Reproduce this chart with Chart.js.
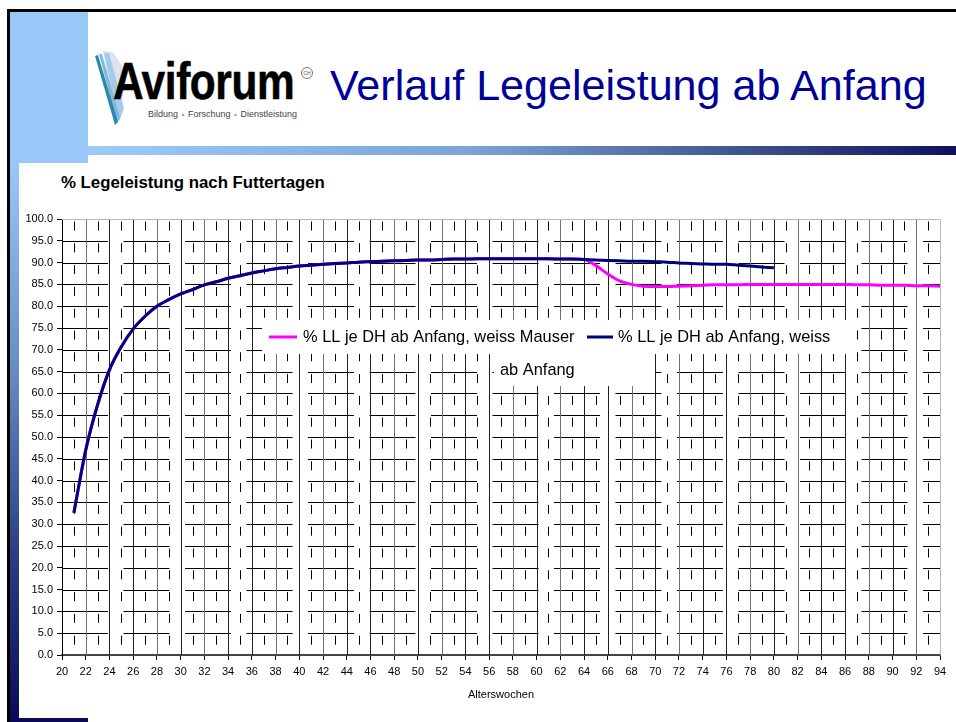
<!DOCTYPE html>
<html><head><meta charset="utf-8">
<script src="https://cdn.jsdelivr.net/npm/chart.js@4.4.0/dist/chart.umd.min.js"></script>
<style>
html,body{margin:0;padding:0;background:#fff;width:956px;height:722px;overflow:hidden;font-family:"Liberation Sans",Arial,sans-serif;}
.abs{position:absolute;}
</style></head><body>
<!-- slide frame -->
<div class="abs" style="left:7px;top:9px;width:949px;height:3px;background:#000"></div>
<div class="abs" style="left:7px;top:9px;width:3px;height:713px;background:#000"></div>
<div class="abs" style="left:10px;top:12px;width:78px;height:151px;background:#98c8f8"></div>
<div class="abs" style="left:10px;top:163px;width:9px;height:559px;background:linear-gradient(#98c8f8,#6a90c6 35%,#2a3f82 70%,#0a0a55)"></div>
<div class="abs" style="left:10px;top:718px;width:78px;height:4px;background:#0a0a55"></div>
<div class="abs" style="left:88px;top:146px;width:868px;height:9px;background:linear-gradient(90deg,#9ccbfa 0%,#7aa2d6 45%,#3e5590 75%,#10105e 100%)"></div>
<!-- logo -->
<svg class="abs" style="left:88px;top:45px" width="50" height="85" viewBox="88 45 50 85">
  <polygon points="103,51 113,52 126,72 121,110 117,124" fill="#dde3f0"/>
  <polygon points="104,53 109,53 124,108 119,122" fill="#a6cbe8"/>
  <polygon points="99,54 102,54 120,118 117,123" fill="#7dbbdc"/>
  <polygon points="95,56 98,55 118,122 115,125" fill="#2b88ad"/>
</svg>
<div class="abs" style="left:113px;top:56px;font-weight:bold;font-size:51.7px;line-height:1;color:#000;transform:scaleX(0.82);transform-origin:0 0;letter-spacing:-0.5px;-webkit-text-stroke:0.6px #000">Aviforum</div>
<div class="abs" style="left:301px;top:67px;width:10px;height:10px;border:1px solid #777;border-radius:50%;font-size:5px;line-height:10px;text-align:center;color:#555">CH</div>
<div class="abs" style="left:148px;top:110px;font-size:9px;line-height:1;color:#444;white-space:nowrap">Bildung <span style="font-size:5px;color:#999;vertical-align:1px">▲</span> Forschung <span style="font-size:5px;color:#999;vertical-align:1px">▲</span> Dienstleistung</div>
<div class="abs" style="left:330px;top:64px;font-size:43.1px;line-height:1;color:#000099;white-space:nowrap">Verlauf Legeleistung ab Anfang</div>
<!-- chart title -->
<div class="abs" style="left:61px;top:175px;font-size:16.8px;font-weight:bold;line-height:1;color:#000;white-space:nowrap">% Legeleistung nach Futtertagen</div>
<canvas id="c" width="936" height="554" class="abs" style="left:20px;top:163px"></canvas>
<script>
// ---- data ----
const weeksMauser = [21,22,23,24,25,26,27,28,29,30,31,32,33,34,35,36,37,38,39,40,41,42,43,44,45,46,47,48,49,50,51,52,53,54,55,56,57,58,59,60,61,62,63,64,65,66,67,68,69,70,71,72,73,74,75,76,77,78,79,80,81,82,83,84,85,86,87,88,89,90,91,92,93,94];
const llMauser = [32.6,47.0,57.4,65.4,70.7,74.8,77.7,80.0,81.5,82.8,83.8,84.9,85.6,86.4,87.0,87.6,88.1,88.6,88.9,89.2,89.4,89.6,89.8,89.9,90.1,90.2,90.3,90.4,90.5,90.6,90.6,90.7,90.8,90.8,90.9,90.9,90.9,90.9,90.9,90.9,90.9,90.8,90.8,90.7,89.3,87.4,85.8,85.0,84.6,84.5,84.5,84.6,84.7,84.8,84.9,84.9,84.9,85.0,85.0,85.0,85.0,85.0,85.0,85.0,85.0,85.0,84.9,84.9,84.8,84.8,84.8,84.7,84.7,84.6];
const weeksWeiss = [21,22,23,24,25,26,27,28,29,30,31,32,33,34,35,36,37,38,39,40,41,42,43,44,45,46,47,48,49,50,51,52,53,54,55,56,57,58,59,60,61,62,63,64,65,66,67,68,69,70,71,72,73,74,75,76,77,78,79,80];
const llWeiss = [32.6,47.0,57.4,65.4,70.7,74.8,77.7,80.0,81.5,82.8,83.8,84.9,85.6,86.4,87.0,87.6,88.1,88.6,88.9,89.2,89.4,89.6,89.8,89.9,90.1,90.2,90.3,90.4,90.5,90.6,90.6,90.7,90.8,90.8,90.9,90.9,90.9,90.9,90.9,90.9,90.9,90.8,90.8,90.7,90.6,90.5,90.4,90.3,90.3,90.2,90.1,89.9,89.8,89.7,89.6,89.6,89.4,89.2,89.0,88.8];
const seriesNames = ['% LL je DH ab Anfang, weiss Mauser', '% LL je DH ab Anfang, weiss', 'ab Anfang'];
const xAxisTitle = 'Alterswochen';

const toPts = (xs, ys) => xs.map((x, i) => ({x: x, y: ys[i]}));
const FONT = '"Liberation Sans", Arial, sans-serif';

const gridPlugin = {
  id: 'customGrid',
  beforeDatasetsDraw(chart) {
    const {ctx, chartArea: a, scales: {x, y}} = chart;
    ctx.save();
    ctx.lineWidth = 1;
    ctx.strokeStyle = '#000';
    ctx.setLineDash([46, 15.5]);
    for (let v = 5; v <= 95; v += 5) {
      const py = Math.round(y.getPixelForValue(v)) + 0.5;
      ctx.beginPath(); ctx.moveTo(a.left, py); ctx.lineTo(a.right, py); ctx.stroke();
    }
    const step = y.getPixelForValue(0) - y.getPixelForValue(5);
    for (let w = 21; w <= 93; w++) {
      const px = Math.round(x.getPixelForValue(w)) + 0.5;
      if (w % 2 === 1) {
        ctx.strokeStyle = '#000';
        ctx.setLineDash([9, step - 9]);
        ctx.lineDashOffset = step - 2.5;
      } else {
        ctx.strokeStyle = (w % 10 === 8 || w % 10 === 2) ? '#707070' : '#222';
        ctx.setLineDash([]);
        ctx.lineDashOffset = 0;
      }
      ctx.beginPath(); ctx.moveTo(px, a.top); ctx.lineTo(px, a.bottom); ctx.stroke();
    }
    ctx.setLineDash([]);
    ctx.strokeStyle = '#b8b8b8';
    ctx.beginPath();
    ctx.moveTo(a.left, Math.round(a.top) + 0.5); ctx.lineTo(Math.round(a.right) + 0.5, Math.round(a.top) + 0.5);
    ctx.lineTo(Math.round(a.right) + 0.5, a.bottom);
    ctx.stroke();
    ctx.restore();
  }
};

const legendPlugin = {
  id: 'customLegend',
  afterDatasetsDraw(chart) {
    const {ctx, chartArea: a} = chart;
    const L = a.left, T = a.top;
    ctx.save();
    ctx.fillStyle = '#fff';
    ctx.fillRect(L + 200, T + 101, 592, 34);
    ctx.fillRect(L + 432, T + 135, 161, 32);
    ctx.font = '16.4px ' + FONT;
    ctx.textBaseline = 'middle';
    ctx.fillStyle = '#000';
    const ly = T + 118;
    ctx.lineWidth = 3;
    ctx.strokeStyle = '#ff00ff';
    ctx.beginPath(); ctx.moveTo(L + 207, ly); ctx.lineTo(L + 235, ly); ctx.stroke();
    ctx.fillText(seriesNames[0], L + 241, ly);
    ctx.strokeStyle = '#000080';
    ctx.beginPath(); ctx.moveTo(L + 525, ly); ctx.lineTo(L + 551, ly); ctx.stroke();
    ctx.fillText(seriesNames[1], L + 556, ly);
    ctx.fillText(seriesNames[2], L + 438, T + 151);
    ctx.restore();
  }
};

new Chart(document.getElementById('c'), {
  type: 'line',
  data: {
    datasets: [
      {label: seriesNames[0], data: toPts(weeksMauser, llMauser), borderColor: '#ff00ff', borderWidth: 3, pointRadius: 0, cubicInterpolationMode: 'monotone', fill: false, order: 1},
      {label: seriesNames[1], data: toPts(weeksWeiss, llWeiss), borderColor: '#000080', borderWidth: 3, pointRadius: 0, cubicInterpolationMode: 'monotone', fill: false, order: 0}
    ]
  },
  options: {
    responsive: false,
    animation: false,
    devicePixelRatio: 1,
    layout: {padding: {top: 56, right: 16, left: 0, bottom: 0}},
    plugins: {legend: {display: false}, tooltip: {enabled: false}, title: {display: false}},
    scales: {
      x: {
        type: 'linear', min: 20, max: 94,
        afterFit: s => { s.height = 62; },
        ticks: {stepSize: 2, color: '#000', padding: 5, maxRotation: 0, autoSkip: false, font: {family: FONT, size: 11}},
        grid: {drawOnChartArea: false, drawTicks: true, tickLength: 5, color: '#000'},
        border: {display: true, color: '#444', width: 2},
        title: {display: true, text: xAxisTitle, color: '#000', font: {family: FONT, size: 11}, padding: {top: 15, bottom: 15}}
      },
      y: {
        min: 0, max: 100,
        afterFit: s => { s.width = 42; },
        ticks: {stepSize: 5, color: '#000', padding: 4, font: {family: FONT, size: 11}, callback: v => v.toFixed(1)},
        grid: {drawOnChartArea: false, drawTicks: true, tickLength: 5, color: '#000'},
        border: {display: true, color: '#000', width: 1}
      }
    }
  },
  plugins: [gridPlugin, legendPlugin]
});
</script>
</body></html>
